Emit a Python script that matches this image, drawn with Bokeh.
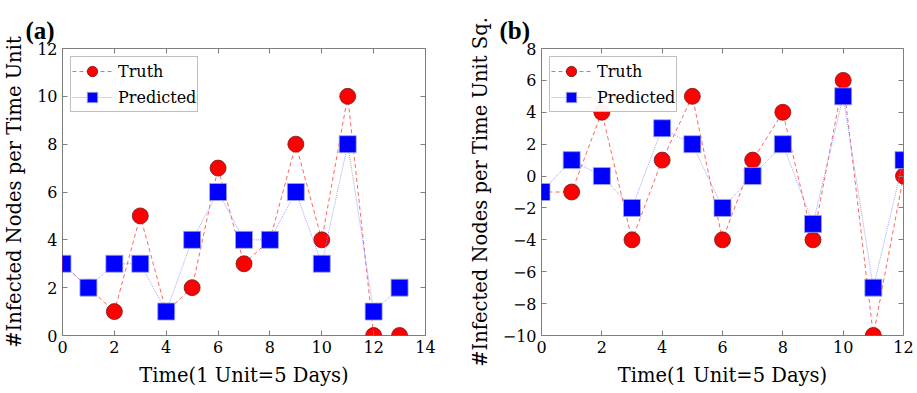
from bokeh.plotting import figure
from bokeh.models import LinearAxis, Range1d, Legend, LegendItem, CustomJSTickFormatter, FixedTicker
from bokeh.layouts import row
from bokeh.embed import file_html
from bokeh.resources import INLINE

# ---- data ----
time_a = list(range(14))
truth_a = [3, 2, 1, 5, 1, 2, 7, 3, 4, 8, 4, 10, 0, 0]
pred_a = [3, 2, 3, 3, 1, 4, 6, 4, 4, 6, 3, 8, 1, 2]
xticks_a = [0, 2, 4, 6, 8, 10, 12, 14]
yticks_a = [0, 2, 4, 6, 8, 10, 12]

time_b = list(range(13))
truth_b = [-1, -1, 4, -4, 1, 5, -4, 1, 4, -4, 6, -10, 0]
pred_b = [-1, 1, 0, -2, 3, 2, -2, 0, 2, -3, 5, -7, 1]
xticks_b = [0, 2, 4, 6, 8, 10, 12]
yticks_b = [-10, -8, -6, -4, -2, 0, 2, 4, 6, 8]

SERIF = "DejaVu Serif"
FRAME = "#7f7f7f"
minus_fmt = """return tick < 0 ? '\\u2212' + Math.abs(tick) : tick.toString();"""


def style_axis(ax, ticks, show_labels=True):
    ax.ticker = FixedTicker(ticks=ticks)
    ax.major_tick_in = 5
    ax.major_tick_out = 0
    ax.minor_tick_line_color = None
    ax.axis_line_color = None
    ax.major_tick_line_color = FRAME
    ax.major_label_text_font = SERIF
    ax.major_label_text_font_size = "16px"
    ax.major_label_text_color = "black"
    ax.major_label_text_alpha = 1.0 if show_labels else 0.0
    ax.major_label_standoff = 5
    ax.formatter = CustomJSTickFormatter(code=minus_fmt)
    ax.axis_label_text_font = SERIF
    ax.axis_label_text_font_size = "19.5px"
    ax.axis_label_text_font_style = "normal"
    ax.axis_label_text_color = "black"


def make_fig(t, truth, pred, xr, yr, xticks, yticks, ylabel, title, width,
             bl, br, bt, bb, toff):
    p = figure(width=width, height=390, x_range=Range1d(*xr), y_range=Range1d(*yr),
               output_backend="svg", toolbar_location=None,
               min_border_left=bl, min_border_right=br, min_border_top=bt, min_border_bottom=bb)
    p.grid.visible = False
    p.outline_line_color = FRAME
    p.outline_line_width = 1
    p.background_fill_color = "white"
    p.border_fill_color = "white"

    p.title.text = title
    p.title.text_font = "Liberation Serif"
    p.title.text_font_style = "bold"
    p.title.text_font_size = "25px"
    p.title.text_color = "black"
    p.title.align = "left"
    p.title.offset = toff

    style_axis(p.xaxis[0], xticks)
    style_axis(p.yaxis[0], yticks)
    p.xaxis[0].axis_label = "Time(1 Unit=5 Days)"
    p.yaxis[0].axis_label = ylabel
    p.xaxis[0].axis_label_standoff = 8
    p.yaxis[0].axis_label_standoff = 8

    top = LinearAxis()
    style_axis(top, xticks, show_labels=False)
    top.major_label_text_font_size = "11px"
    top.major_label_standoff = 0
    p.add_layout(top, "above")
    right = LinearAxis()
    style_axis(right, yticks, show_labels=False)
    right.major_label_text_font_size = "0px"
    right.major_label_standoff = 0
    p.add_layout(right, "right")

    tl = p.line(t, truth, line_color="#ff4a4a", line_dash="4 3", line_width=1, line_alpha=0.85)
    tm = p.scatter(t, truth, marker="circle", size=16, fill_color="#ff0000",
                   line_color="#6b2020", line_width=0.8)
    pl = p.line(t, pred, line_color="#8c8cff", line_dash="1 1", line_width=1, line_alpha=0.8)
    pm = p.scatter(t, pred, marker="square", size=17, fill_color="#0000ff",
                   line_color="#9fa8d8", line_width=0.8)

    legend = Legend(items=[LegendItem(label="Truth", renderers=[tl, tm]),
                           LegendItem(label="Predicted", renderers=[pl, pm])],
                    location="top_left")
    legend.label_text_font = SERIF
    legend.label_text_font_size = "16px"
    legend.label_text_color = "black"
    legend.border_line_color = FRAME
    legend.border_line_width = 1
    legend.margin = 8
    legend.padding = 1
    legend.spacing = 0
    legend.glyph_width = 40
    legend.glyph_height = 26
    legend.label_standoff = 6
    legend.label_width = 78
    p.add_layout(legend, "center")
    return p


pa = make_fig(time_a, truth_a, pred_a, (0, 14), (0, 12), xticks_a, yticks_a,
              "#Infected Nodes per Time Unit", "(a)", 463, 62, 38, 46, 55, -37)
pb = make_fig(time_b, truth_b, pred_b, (0, 12), (-10, 8), xticks_b, yticks_b,
              "#Infected Nodes per Time Unit Sq.", "(b)", 452, 78, 12, 48, 53, -42)

layout = row(pa, pb)
open("out.html", "w").write(file_html(layout, INLINE))
